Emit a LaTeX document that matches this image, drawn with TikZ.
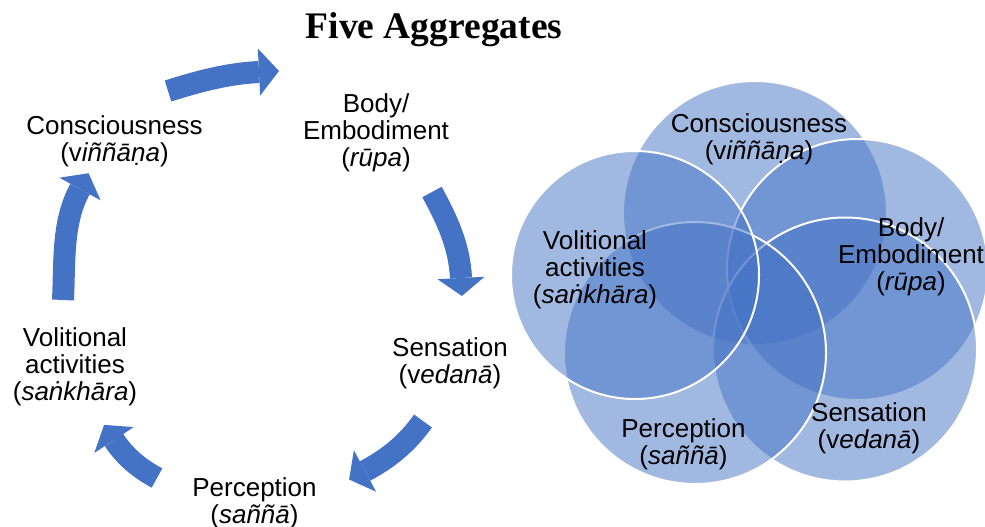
\documentclass[tikz,border=0pt]{standalone}
\usepackage{fontspec}
\setmainfont{Liberation Sans}
\newfontfamily\titlefont{Liberation Serif}
\definecolor{cycleblue}{HTML}{4472C4}
\begin{document}
\begin{tikzpicture}[x=1pt,y=-1pt,
  lbl/.style={align=center, inner sep=0pt, anchor=north,
    font=\fontsize{26}{27}\selectfont},
  petal/.style={fill=cycleblue, fill opacity=0.5, draw=white, line width=2pt},
  arrowbody/.style={draw=cycleblue, line width=22pt},
  arrowtip/.style={fill=cycleblue, draw=none},
]
\useasboundingbox (0,0) rectangle (985,527);

% title
\node[inner sep=0pt, anchor=north, font=\titlefont\bfseries\fontsize{37.5}{40}\selectfont]
  (title) at (434,12) {Five Aggregates};

% ---------- cycle of the five aggregates ----------
\node[lbl] (cyC) at (114.5,115) {Consciousness\\(v\textit{iññāṇa})};
\node[lbl] (cyB) at (376,93) {Body/\\Embodiment\\(\textit{rūpa})};
\node[lbl] (cyS) at (450,337) {Sensation\\(v\textit{edanā})};
\node[lbl] (cyP) at (254.5,477) {Perception\\(\textit{saññā})};
\node[lbl] (cyV) at (75,327) {Volitional\\activities\\(\textit{saṅkhāra})};

% curved block arrows: tail, controls, head base, then the tip triangle
\coordinate (t1) at (168,91);   \coordinate (h1) at (259,72);
\draw[arrowbody] (t1) .. controls (198.5,81.4) and (227,73.6) .. (h1);
\fill[arrowtip] (260.2,95.5) -- (279,71) -- (257.8,48.5) -- cycle;

\coordinate (t2) at (432,192);  \coordinate (h2) at (461,278);
\draw[arrowbody] (t2) .. controls (447.3,220.1) and (459.4,246) .. (h2);
\fill[arrowtip] (484.5,276.8) -- (461.9,296) -- (437.5,279.2) -- cycle;

\coordinate (t3) at (423,421);  \coordinate (h3) at (365,471);
\draw[arrowbody] (t3) .. controls (407.4,443.1) and (388.8,458.3) .. (h3);
\fill[arrowtip] (376.1,491.7) -- (349.1,479.5) -- (353.9,450.3) -- cycle;

\coordinate (t4) at (157,478);  \coordinate (h4) at (114,440);
\draw[arrowbody] (t4) .. controls (139.4,468.6) and (125,456.7) .. (h4);
\fill[arrowtip] (133.7,427.1) -- (104.1,424.9) -- (94.3,452.9) -- cycle;

\coordinate (t5) at (63,300);   \coordinate (h5) at (80,189);
\draw[arrowbody] (t5) .. controls (64.9,262) and (61.8,222.4) .. (h5);
\fill[arrowtip] (100.6,200.3) -- (88.6,173.2) -- (59.4,177.7) -- cycle;

% ---------- overlapping circles ----------
\draw[petal] (755,213) circle[radius=132];
\draw[petal] (857.5,269.5) circle[radius=130.5];
\draw[petal] (845,349.5) circle[radius=132];
\draw[petal] (695,353) circle[radius=131];
\draw[petal] (635,275) circle[radius=124];

\node[lbl] (vnC) at (759,113) {Consciousness\\(v\textit{iññāṇa})};
\node[lbl] (vnB) at (911,217) {Body/\\Embodiment\\(\textit{rūpa})};
\node[lbl] (vnS) at (869,402) {Sensation\\(v\textit{edanā})};
\node[lbl] (vnP) at (683.5,418) {Perception\\(\textit{saññā})};
\node[lbl] (vnV) at (595,230) {Volitional\\activities\\(\textit{saṅkhāra})};
\end{tikzpicture}
\end{document}
